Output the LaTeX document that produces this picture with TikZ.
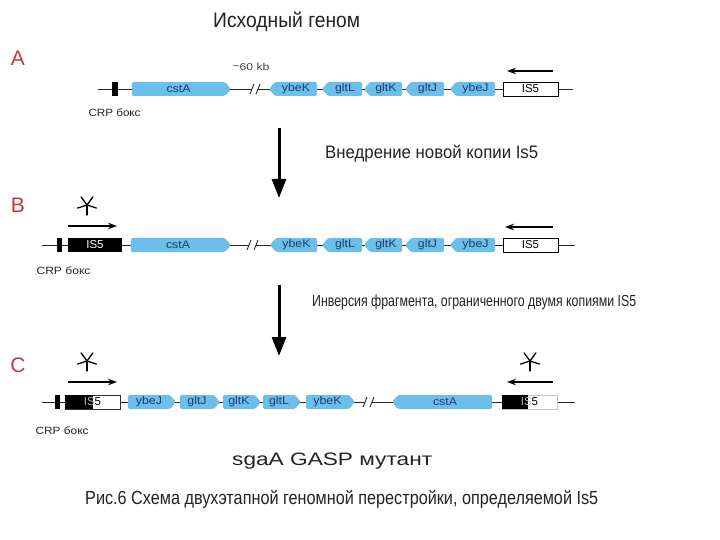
\documentclass[tikz,border=0pt]{standalone}
\usepackage{fontspec}
\setmainfont{Liberation Sans}
\newfontfamily\genefont[FakeStretch=1.12]{Liberation Sans}
\usetikzlibrary{shapes.symbols,arrows.meta}
\definecolor{genefill}{RGB}{108,190,235}
\definecolor{genetext}{RGB}{30,60,110}
\definecolor{lettred}{RGB}{200,55,60}
\definecolor{txt}{RGB}{35,35,35}
\newcommand\wbox[2]{\resizebox{#1}{\height}{#2}}
\newcommand\drawast[1]{\foreach \a in {270,198,126,54,342} \draw[astline] (#1) -- ++(\a:10pt);}
\begin{document}
\begin{tikzpicture}[x=1pt,y=-1pt,
 gene/.style={signal, signal pointer angle=100, fill=genefill, draw=none, minimum height=14pt, inner sep=0pt, rounded corners=1.5pt, font=\genefont\fontsize{11}{11}\selectfont, text=genetext},
 geneR/.style={gene, signal to=east},
 geneL/.style={gene, signal to=west},
 isbox/.style={rectangle, minimum height=14pt, inner sep=0pt, font=\fontsize{11.5}{11.5}\selectfont},
 crp/.style={rectangle, fill=black, minimum width=6pt, minimum height=14pt, inner sep=0pt},
 dna/.style={line width=0.9pt, draw=black!85},
 brk/.style={line width=0.9pt, draw=black!85},
 smallarrow/.style={line width=1.4pt, -{Stealth[width=6.5pt,length=9pt]}},
 bigarrow/.style={line width=3pt, -{Triangle[width=14pt,length=19pt]}},
 astline/.style={line width=1.3pt, line cap=round},
 rowlabel/.style={font=\fontsize{21}{21}\selectfont, text=lettred},
 crplabel/.style={font=\fontsize{10.5}{10.5}\selectfont, text=txt, anchor=base west},
 caption/.style={text=txt, anchor=base west, inner sep=0pt},
]
\fill[white] (0,0) rectangle (720,540);
\useasboundingbox (0,0) rectangle (720,540);

% titles
\node[caption, font=\fontsize{21}{21}\selectfont] (title) at (213,28) {\wbox{147pt}{Исходный геном}};
\node[caption, font=\fontsize{18}{18}\selectfont] (step1) at (325,159) {\wbox{213pt}{Внедрение новой копии Is5}};
\node[caption, font=\fontsize{16}{16}\selectfont] (step2) at (312,306) {\wbox{324pt}{Инверсия фрагмента, ограниченного двумя копиями IS5}};
\node[caption, font=\fontsize{18}{18}\selectfont] (mut) at (232,465) {\wbox{200pt}{sgaA GASP мутант}};
\node[caption, font=\fontsize{19}{19}\selectfont] (cap) at (85,504) {\wbox{513pt}{Рис.6 Схема двухэтапной геномной перестройки, определяемой Is5}};

% row labels
\node[rowlabel] (lA) at (18,58) {A};
\node[rowlabel] (lB) at (18,205) {B};
\node[rowlabel] (lC) at (18,365) {C};

% ---------- Row A ----------
\coordinate (a0) at (98,89);
\coordinate (ab1) at (252,89);
\coordinate (ab2) at (258,89);
\coordinate (a1) at (573,89);
\draw[dna] (a0) -- (ab1);
\draw[dna] (ab2) -- (a1);
\draw[brk] ([shift={(-2,5)}]ab1) -- ([shift={(2,-5)}]ab1);
\draw[brk] ([shift={(-2,5)}]ab2) -- ([shift={(2,-5)}]ab2);
\node[crp] (acrp) at (115,89) {};
\node[geneR, minimum width=99pt] (acstA) at (178.5,89) {cstA};
\node[geneL, minimum width=48pt] (aybeK) at (296,89) {ybeK};
\node[geneL, minimum width=40pt] (agltL) at (345,89) {gltL};
\node[geneL, minimum width=38pt] (agltK) at (386,89) {gltK};
\node[geneL, minimum width=39pt] (agltJ) at (427.5,89) {gltJ};
\node[geneL, minimum width=45pt] (aybeJ) at (475.5,89) {ybeJ};
\node[isbox, draw=black, fill=white, line width=0.8pt, minimum width=55pt] (aIS) at (530.5,89) {IS5};
\coordinate (aarS) at (553,71);
\coordinate (aarE) at (507,71);
\draw[smallarrow] (aarS) -- (aarE);
\node[font=\fontsize{10}{10}\selectfont, text=txt!85] (kb) at (251,67) {\wbox{37pt}{\raisebox{1.5pt}{\textasciitilde}60 kb}};
\node[crplabel] (acrpl) at (85,117) {\wbox{52pt}{CRP бокс}};

% ---------- Row B ----------
\coordinate (b0) at (42,245);
\coordinate (bb1) at (249,245);
\coordinate (bb2) at (256,245);
\coordinate (b1) at (575,245);
\draw[dna] (b0) -- (bb1);
\draw[dna] (bb2) -- (b1);
\draw[brk] ([shift={(-2,5)}]bb1) -- ([shift={(2,-5)}]bb1);
\draw[brk] ([shift={(-2,5)}]bb2) -- ([shift={(2,-5)}]bb2);
\node[crp, minimum width=5pt] (bcrp) at (59.5,245) {};
\node[isbox, fill=black, text=white, minimum width=54pt] (bIS1) at (95,245) {IS5};
\node[geneR, minimum width=100pt] (bcstA) at (178,245) {cstA};
\node[geneL, minimum width=47pt] (bybeK) at (296.5,245) {ybeK};
\node[geneL, minimum width=40pt] (bgltL) at (345,245) {gltL};
\node[geneL, minimum width=38pt] (bgltK) at (386,245) {gltK};
\node[geneL, minimum width=39pt] (bgltJ) at (427.5,245) {gltJ};
\node[geneL, minimum width=45pt] (bybeJ) at (475.5,245) {ybeJ};
\node[isbox, draw=black, fill=white, line width=0.8pt, minimum width=55pt] (bIS2) at (530.5,245) {IS5};
\coordinate (bar1S) at (68,226);
\coordinate (bar1E) at (117,226);
\draw[smallarrow] (bar1S) -- (bar1E);
\coordinate (bar2S) at (553,227);
\coordinate (bar2E) at (505,227);
\draw[smallarrow] (bar2S) -- (bar2E);
\coordinate (bstar) at (87,205);
\drawast{bstar}
\node[crplabel] (bcrpl) at (33,274) {\wbox{54pt}{CRP бокс}};

% ---------- Row C ----------
\coordinate (c0) at (42,402);
\coordinate (cb1) at (365,402);
\coordinate (cb2) at (372,402);
\coordinate (c1) at (575,402);
\draw[dna] (c0) -- (cb1);
\draw[dna] (cb2) -- (c1);
\draw[brk] ([shift={(-2,5)}]cb1) -- ([shift={(2,-5)}]cb1);
\draw[brk] ([shift={(-2,5)}]cb2) -- ([shift={(2,-5)}]cb2);
\node[crp, minimum width=5pt] (ccrp) at (57.5,402) {};
\node[isbox, draw=black!80, fill=white, line width=0.6pt, minimum width=55pt] (cIS1) at (92.5,402) {};
\fill[black] (cIS1.north west) rectangle ([xshift=28pt]cIS1.south west);
\node[isbox] (cIS1t) at (cIS1.center) {\textcolor{gray!55}{IS}5};
\node[geneR, minimum width=48pt] (cybeJ) at (149,402) {ybeJ};
\node[geneR, minimum width=40pt] (cgltJ) at (197,402) {gltJ};
\node[geneR, minimum width=38pt] (cgltK) at (239,402) {gltK};
\node[geneR, minimum width=38pt] (cgltL) at (279,402) {gltL};
\node[geneR, minimum width=49pt] (cybeK) at (327.5,402) {ybeK};
\node[geneL, minimum width=100pt] (ccstA) at (445,402) {cstA};
\node[isbox, draw=gray!45, fill=white, line width=0.6pt, minimum width=55pt] (cIS2) at (529.5,402) {};
\fill[black] (cIS2.north west) rectangle ([xshift=26pt]cIS2.south west);
\node[isbox] (cIS2t) at (cIS2.center) {\textcolor{gray!55}{IS}5};
\coordinate (car1S) at (68,382);
\coordinate (car1E) at (117,382);
\draw[smallarrow] (car1S) -- (car1E);
\coordinate (car2S) at (553,382);
\coordinate (car2E) at (507,382);
\draw[smallarrow] (car2S) -- (car2E);
\coordinate (cstar1) at (87,361);
\coordinate (cstar2) at (530,361);
\drawast{cstar1}
\drawast{cstar2}
\node[crplabel] (ccrpl) at (32,434) {\wbox{53pt}{CRP бокс}};

% ---------- step arrows ----------
\coordinate (s1a) at (279,128);
\coordinate (s1b) at (279,198);
\coordinate (s2a) at (279,285);
\coordinate (s2b) at (279,356);
\draw[bigarrow] (s1a) -- (s1b);
\draw[bigarrow] (s2a) -- (s2b);
\end{tikzpicture}
\end{document}
